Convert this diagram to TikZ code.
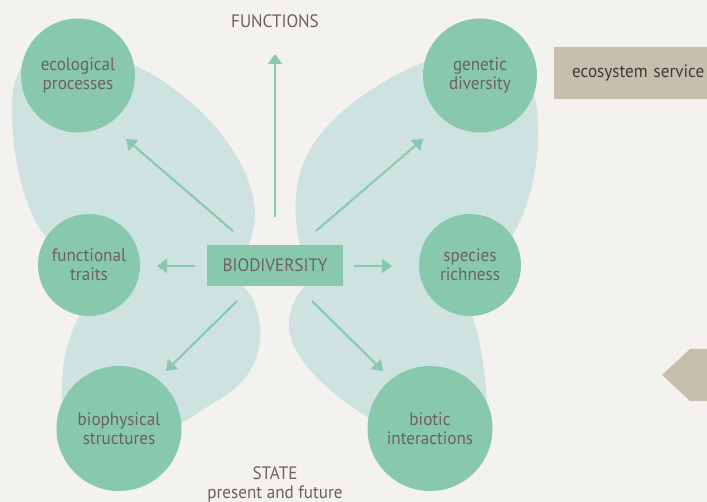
\documentclass[tikz,border=0pt]{standalone}
\usepackage{fontspec}
\setmainfont{PT Sans}[FakeStretch=0.95]
\usetikzlibrary{arrows.meta}
\definecolor{bg}{RGB}{243,242,238}
\definecolor{wing}{RGB}{206,226,224}
\definecolor{leaf}{RGB}{136,201,174}
\definecolor{txt}{RGB}{108,97,91}
\definecolor{svc}{RGB}{199,191,174}
\definecolor{svctxt}{RGB}{62,58,55}
\begin{document}
\begin{tikzpicture}[x=1pt,y=-1pt,
  circ/.style={circle, fill=leaf, inner sep=0pt, minimum size=#1, align=center, text=txt, font=\fontsize{18}{19}\selectfont},
  arr/.style={draw=leaf, line width=2pt, -{Triangle[length=10pt,width=14pt]}},
  lbl/.style={text=txt, font=\fontsize{18}{19}\selectfont, align=center},
  wingfill/.style={fill=wing}]
\path[use as bounding box] (0,0) rectangle (707,502);
\clip (0,0) rectangle (707,502);
\fill[bg] (0,0) rectangle (707,502);
% wings
\fill[wingfill] (12,110) .. controls (10,60) and (40,40) .. (90,52)
  .. controls (160,60) and (250,140) .. (255,210)
  .. controls (255,255) and (230,280) .. (180,280)
  .. controls (110,285) and (55,260) .. (35,220)
  .. controls (20,190) and (12,150) .. (12,110) -- cycle;
\fill[wingfill] (62,400) .. controls (60,350) and (75,305) .. (110,285)
  .. controls (150,255) and (235,260) .. (253,300)
  .. controls (270,340) and (258,380) .. (213,403)
  .. controls (190,418) and (160,440) .. (120,445)
  .. controls (80,450) and (62,430) .. (62,400) -- cycle;
\fill[wingfill] (300,245) .. controls (290,200) and (295,160) .. (330,123)
  .. controls (365,88) and (430,50) .. (480,50)
  .. controls (525,50) and (540,90) .. (538,140)
  .. controls (536,190) and (520,240) .. (480,275)
  .. controls (430,285) and (340,280) .. (300,245) -- cycle;
\fill[wingfill] (320,272) .. controls (295,290) and (285,315) .. (290,335)
  .. controls (295,360) and (330,395) .. (368,417)
  .. controls (400,435) and (470,440) .. (487,400)
  .. controls (484,360) and (478,330) .. (470,310)
  .. controls (455,270) and (380,255) .. (320,272) -- cycle;
% nodes
\node[circ=114pt] (eco) at (78,75.5) {ecological\\processes};
\node[circ=114pt] (gen) at (480,75.5) {genetic\\diversity};
\node[circ=102pt] (fun) at (89,265) {functional\\traits};
\node[circ=102pt] (spe) at (470,265) {species\\richness};
\node[circ=125pt] (bph) at (119,428.5) {biophysical\\structures};
\node[circ=125pt] (bio) at (430,428.5) {biotic\\interactions};
\node[fill=leaf, minimum width=136pt, minimum height=41pt, inner sep=0pt, text=txt, font=\fontsize{18}{19}\selectfont] (bd) at (275,265.5) {BIODIVERSITY};
\node[lbl] (fn) at (275,21) {FUNCTIONS};
\node[lbl] (st) at (275,484) {STATE\\present and future};
\node[fill=svc, anchor=west, minimum height=52pt, minimum width=180pt, inner xsep=18pt, inner ysep=0pt, text width=144pt, align=left, text=svctxt, font=\fontsize{18}{19}\selectfont] (svcbox) at (554,73) {ecosystem service};
\fill[svc] (662,375) -- (690,349) -- (712,349) -- (712,401) -- (690,401) -- cycle;
% arrow end coordinates
\coordinate (aU0) at (275,217); \coordinate (aU1) at (275,54);
\coordinate (aUL0) at (233,231); \coordinate (aUL1) at (126,139);
\coordinate (aUR0) at (316,231); \coordinate (aUR1) at (423,139);
\coordinate (aL0) at (195,266); \coordinate (aL1) at (157,266);
\coordinate (aR0) at (354,266); \coordinate (aR1) at (392,266);
\coordinate (aLL0) at (237,301); \coordinate (aLL1) at (166,371);
\coordinate (aLR0) at (312,301); \coordinate (aLR1) at (383,371);
\draw[arr] (aU0) -- (aU1);
\draw[arr] (aUL0) -- (aUL1);
\draw[arr] (aUR0) -- (aUR1);
\draw[arr] (aL0) -- (aL1);
\draw[arr] (aR0) -- (aR1);
\draw[arr] (aLL0) -- (aLL1);
\draw[arr] (aLR0) -- (aLR1);
\end{tikzpicture}
\end{document}
